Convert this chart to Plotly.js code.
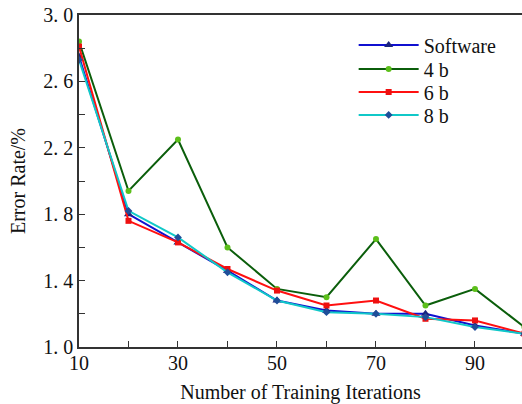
<!DOCTYPE html>
<html><head><meta charset="utf-8">
<script src="https://cdn.plot.ly/plotly-3.0.1.min.js"></script>
<style>body{margin:0;padding:0;background:#fff}#chart{width:522px;height:404px}</style>
</head><body><div id="chart"></div>
<script>
const iterations = [10, 20, 30, 40, 50, 60, 70, 80, 90, 100];
const software = [2.75, 1.80, 1.63, 1.46, 1.28, 1.22, 1.20, 1.20, 1.13, 1.08];
const bits4 = [2.84, 1.94, 2.25, 1.60, 1.35, 1.30, 1.65, 1.25, 1.35, 1.12];
const bits6 = [2.81, 1.76, 1.63, 1.47, 1.34, 1.25, 1.28, 1.17, 1.16, 1.08];
const bits8 = [2.73, 1.82, 1.66, 1.45, 1.28, 1.21, 1.20, 1.18, 1.12, 1.08];
const seriesNames = ['Software', '4 b', '6 b', '8 b'];
const xTickVals = [10, 30, 50, 70, 90];
const yTickVals = [1.0, 1.4, 1.8, 2.2, 2.6, 3.0];
const yTickText = ['1. 0', '1. 4', '1. 8', '2. 2', '2. 6', '3. 0'];

const font = 'Liberation Serif, Times New Roman, serif';
const legendIds = ['legend', 'legend2', 'legend3', 'legend4'];
const traces = [
  {x: iterations, y: software, name: seriesNames[0], mode: 'lines+markers', legend: legendIds[0],
   line: {color: '#1010d0', width: 2}, marker: {symbol: 'triangle-up', size: 8, color: '#1a237e'}},
  {x: iterations, y: bits4, name: seriesNames[1], mode: 'lines+markers', legend: legendIds[1],
   line: {color: '#0b5e0b', width: 2}, marker: {symbol: 'circle', size: 6, color: '#5cbf1a'}},
  {x: iterations, y: bits6, name: seriesNames[2], mode: 'lines+markers', legend: legendIds[2],
   line: {color: '#ff1010', width: 2}, marker: {symbol: 'square', size: 6, color: '#ee1010'}},
  {x: iterations, y: bits8, name: seriesNames[3], mode: 'lines+markers', legend: legendIds[3],
   line: {color: '#10c8c8', width: 2}, marker: {symbol: 'diamond', size: 6, color: '#1f4e99'}}
];
function leg(y) {
  return {x: 0.62, y: y, xanchor: 'left', yanchor: 'middle', bgcolor: 'rgba(0,0,0,0)',
          font: {family: font, size: 20, color: '#111'}, itemwidth: 60};
}
const layout = {
  width: 522, height: 404,
  margin: {l: 79, r: 0, t: 15, b: 57},
  paper_bgcolor: '#fff', plot_bgcolor: '#fff',
  font: {family: font, size: 20, color: '#111'},
  showlegend: true,
  legend: leg(0.910), legend2: leg(0.837), legend3: leg(0.768), legend4: leg(0.699),
  xaxis: {range: [10, 99.5], tickvals: xTickVals, ticks: 'inside', ticklen: 6, tickcolor: '#333',
          showline: true, linecolor: '#333', linewidth: 1.8, mirror: true, showgrid: false, zeroline: false,
          ticklabelstandoff: -3,
          minor: {tickvals: [20, 40, 60, 80], ticks: 'inside', ticklen: 6, tickcolor: '#333'},
          title: {text: 'Number of Training Iterations', font: {family: font, size: 20}, standoff: 14},
          tickfont: {family: font, size: 20}},
  yaxis: {range: [1, 3], tickvals: yTickVals, ticktext: yTickText, ticks: 'inside', ticklen: 6, tickcolor: '#333',
          showline: true, linecolor: '#333', linewidth: 1.8, showgrid: false, zeroline: false,
          minor: {tickvals: [1.2, 1.6, 2.0, 2.4, 2.8], ticks: 'inside', ticklen: 6, tickcolor: '#333'},
          title: {text: 'Error Rate/%', font: {family: font, size: 20}, standoff: 12},
          tickfont: {family: font, size: 20}}
};
Plotly.newPlot('chart', traces, layout, {displayModeBar: false, staticPlot: true});
</script></body></html>
